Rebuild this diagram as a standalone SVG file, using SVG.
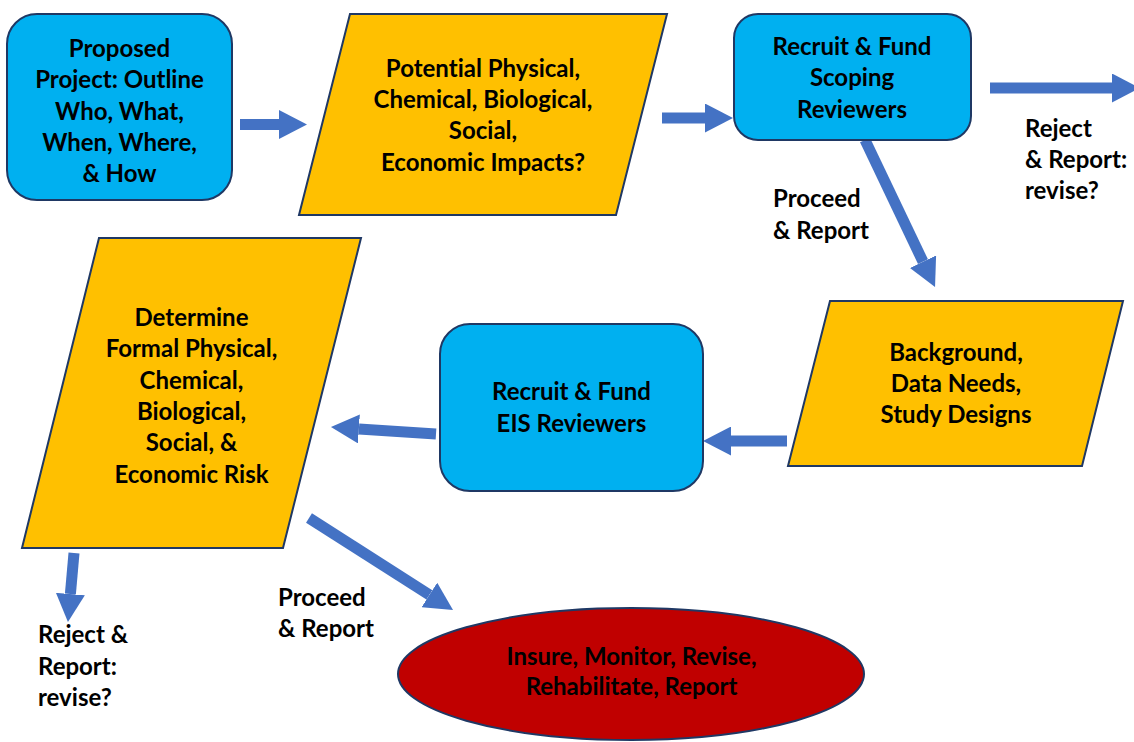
<svg xmlns="http://www.w3.org/2000/svg" width="1134" height="742" viewBox="0 0 1134 742">
  <style>
    .t { font-family: Lato, "Open Sans", "Liberation Sans", sans-serif; font-weight: bold; font-size: 24px; fill: #000; font-variant-ligatures: none; }
    .c { text-anchor: middle; }
    .blue { fill: #00B0F0; stroke: #1F3864; stroke-width: 2; }
    .yel { fill: #FFC000; stroke: #1F3864; stroke-width: 2; }
    .red { fill: #C00000; stroke: #1F3864; stroke-width: 2; }
    .arr { stroke: #4472C4; stroke-width: 11; fill: none; marker-end: url(#head); }
  </style>
  <defs>
    <marker id="head" viewBox="0 0 28 29" markerWidth="28" markerHeight="29" refX="0" refY="14.5" orient="auto" markerUnits="userSpaceOnUse">
      <path d="M0,0 L28,14.5 L0,29 Z" fill="#4472C4"/>
    </marker>
  </defs>
  <rect width="1134" height="742" fill="#fff"/>

  <g id="connectors">
    <line class="arr" x1="240" y1="124.5" x2="279" y2="124.5"/>
    <line class="arr" x1="662" y1="118" x2="705" y2="118"/>
    <line class="arr" x1="990" y1="88" x2="1112" y2="88"/>
    <line class="arr" x1="865" y1="140" x2="923" y2="261.7"/>
    <line class="arr" x1="787" y1="441" x2="731" y2="441"/>
    <line class="arr" x1="436" y1="434" x2="358.9" y2="428.9"/>
    <line class="arr" x1="74" y1="553" x2="70.4" y2="594.1"/>
    <line class="arr" x1="309" y1="518" x2="429.4" y2="594.9"/>
  </g>

  <g id="proposed">
    <rect class="blue" x="7" y="14" width="225" height="186" rx="30"/>
    <text class="t c" x="119.5" y="57">Proposed</text>
    <text class="t c" x="119.5" y="88">Project: Outline</text>
    <text class="t c" x="119.5" y="120">Who, What,</text>
    <text class="t c" x="119.5" y="151">When, Where,</text>
    <text class="t c" x="119.5" y="182">&amp; How</text>
  </g>

  <g id="potential">
    <polygon class="yel" points="350,14 667,14 616,215 299,215"/>
    <text class="t c" x="483" y="77">Potential Physical,</text>
    <text class="t c" x="483" y="108">Chemical, Biological,</text>
    <text class="t c" x="483" y="139">Social,</text>
    <text class="t c" x="483" y="171">Economic Impacts?</text>
  </g>

  <g id="scoping">
    <rect class="blue" x="734" y="14" width="237" height="126" rx="24"/>
    <text class="t c" x="852" y="55">Recruit &amp; Fund</text>
    <text class="t c" x="852" y="86">Scoping</text>
    <text class="t c" x="852" y="118">Reviewers</text>
  </g>

  <g id="reject1">
    <text class="t" x="1025" y="137">Reject</text>
    <text class="t" x="1025" y="168">&amp; Report:</text>
    <text class="t" x="1025" y="199">revise?</text>
  </g>

  <g id="proceed1">
    <text class="t" x="773" y="207">Proceed</text>
    <text class="t" x="773" y="239">&amp; Report</text>
  </g>

  <g id="background">
    <polygon class="yel" points="830,301 1123,301 1082,466 788,466"/>
    <text class="t c" x="956" y="361">Background,</text>
    <text class="t c" x="956" y="392">Data Needs,</text>
    <text class="t c" x="956" y="423">Study Designs</text>
  </g>

  <g id="eis">
    <rect class="blue" x="440" y="324" width="263" height="167" rx="30"/>
    <text class="t c" x="571.5" y="400">Recruit &amp; Fund</text>
    <text class="t c" x="571.5" y="432">EIS Reviewers</text>
  </g>

  <g id="determine">
    <polygon class="yel" points="99,238 361,238 283,548 22,548"/>
    <text class="t c" x="191.5" y="326">Determine</text>
    <text class="t c" x="191.5" y="357">Formal Physical,</text>
    <text class="t c" x="191.5" y="389">Chemical,</text>
    <text class="t c" x="191.5" y="420">Biological,</text>
    <text class="t c" x="191.5" y="451">Social, &amp;</text>
    <text class="t c" x="191.5" y="483">Economic Risk</text>
  </g>

  <g id="reject2">
    <text class="t" x="38" y="643">Reject &amp;</text>
    <text class="t" x="38" y="675">Report:</text>
    <text class="t" x="38" y="706">revise?</text>
  </g>

  <g id="proceed2">
    <text class="t" x="278" y="606">Proceed</text>
    <text class="t" x="278" y="637">&amp; Report</text>
  </g>

  <g id="insure">
    <ellipse class="red" cx="631" cy="674" rx="233" ry="66"/>
    <text class="t c" x="631.5" y="665">Insure, Monitor, Revise,</text>
    <text class="t c" x="631.5" y="695">Rehabilitate, Report</text>
  </g>
</svg>
